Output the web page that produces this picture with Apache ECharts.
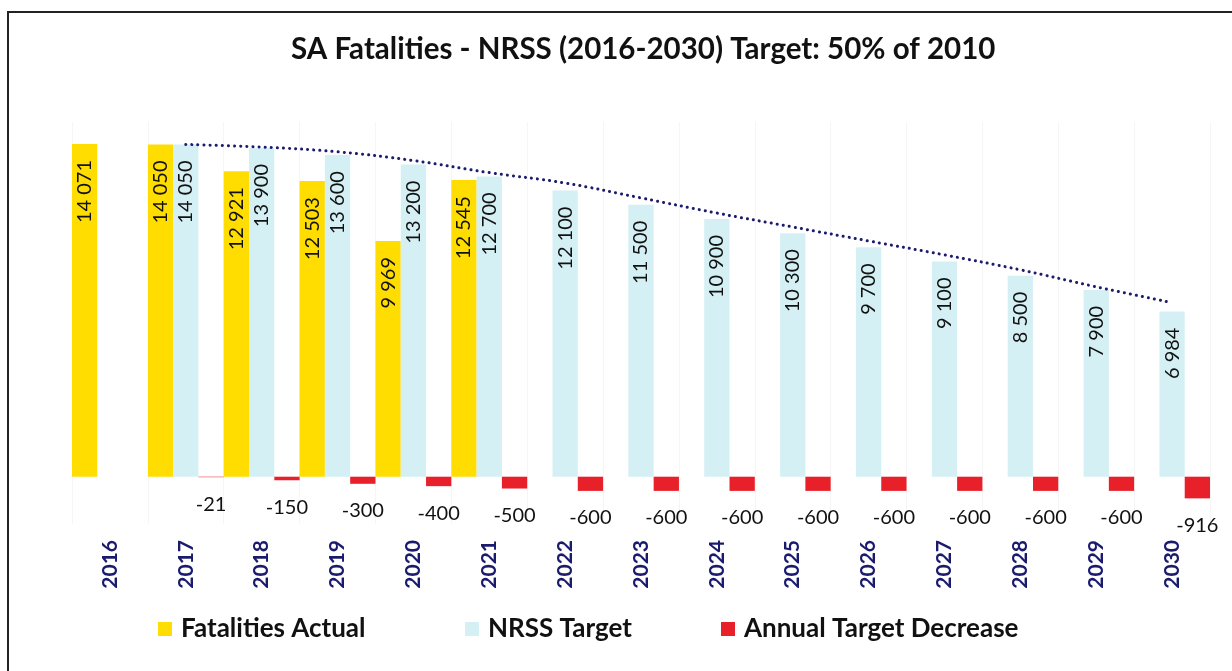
<!DOCTYPE html>
<html>
<head>
<meta charset="utf-8">
<title>SA Fatalities - NRSS</title>
<script src="https://cdn.jsdelivr.net/npm/echarts@6/dist/echarts.min.js"></script>
<style>
  html, body { margin: 0; padding: 0; background: #fff; }
  #chart { width: 1232px; height: 671px; }
</style>
</head>
<body>
<div id="chart"></div>
<script>
// data
const years = ["2016", "2017", "2018", "2019", "2020", "2021", "2022", "2023",
  "2024", "2025", "2026", "2027", "2028", "2029", "2030"];
const actual = [14071, 14050, 12921, 12503, 9969, 12545,
  null, null, null, null, null, null, null, null, null];
const target = [null, 14050, 13900, 13600, 13200, 12700, 12100, 11500,
  10900, 10300, 9700, 9100, 8500, 7900, 6984];
const decrease = [null, -21, -150, -300, -400, -500, -600, -600,
  -600, -600, -600, -600, -600, -600, -916];
// dotted trendline over the NRSS target
const trend = [null, 14050, 13940, 13740, 13370, 12860, 12420, 11790,
  11150, 10560, 9970, 9380, 8750, 8030, 7360];

const FONT = "Lato, 'Open Sans', sans-serif";

function spaced(v) {
  return String(v).replace(/\B(?=(\d{3})+(?!\d))/g, " ");
}

const insideLabel = {
  show: true,
  position: "insideTop",
  rotate: 90,
  align: "right",
  verticalAlign: "middle",
  distance: 16,
  color: "#111",
  fontSize: 20,
  fontFamily: FONT,
  formatter: (p) => spaced(p.value)
};

const chart = echarts.init(document.getElementById("chart"));

function legendAt(name, left) {
  return {
    data: [name],
    left: left,
    top: 611,
    icon: "rect",
    itemWidth: 14,
    itemHeight: 14,
    selectedMode: false,
    textStyle: {
      color: "#111",
      fontWeight: "bold",
      fontSize: 26,
      fontFamily: FONT,
      padding: [0, 0, 0, 4]
    }
  };
}

const option = {
  backgroundColor: "#fff",
  animation: false,
  title: {
    text: "SA Fatalities - NRSS (2016-2030) Target: 50% of 2010",
    left: 286,
    top: 29,
    textStyle: {
      color: "#111",
      fontWeight: "bold",
      fontSize: 29.5,
      fontFamily: FONT
    }
  },
  legend: [
    legendAt("Fatalities Actual", 153),
    legendAt("NRSS Target", 460),
    legendAt("Annual Target Decrease", 716)
  ],
  graphic: [{
    type: "rect",
    shape: { x: 8, y: 12, width: 1400, height: 800 },
    style: { fill: "none", stroke: "#222", lineWidth: 2 },
    silent: true
  }],
  grid: {
    left: 72,
    right: 22,
    top: 122,
    bottom: 147
  },
  xAxis: {
    type: "category",
    data: years,
    axisLine: { show: false, onZero: false },
    axisTick: { show: false },
    splitLine: { show: true, lineStyle: { color: "#f5f5f5", width: 1 } },
    axisLabel: {
      rotate: 90,
      margin: 16,
      color: "#1b1b6e",
      fontWeight: "bold",
      fontSize: 21,
      fontFamily: FONT
    }
  },
  yAxis: {
    type: "value",
    min: -2000,
    max: 15000,
    show: false,
    splitLine: { show: false }
  },
  series: [
    {
      name: "Fatalities Actual",
      type: "bar",
      data: actual,
      barGap: "0%",
      barCategoryGap: "0%",
      itemStyle: { color: "#ffdd00" },
      label: insideLabel
    },
    {
      name: "NRSS Target",
      type: "bar",
      data: target,
      itemStyle: { color: "#d5f0f4" },
      label: insideLabel
    },
    {
      name: "Annual Target Decrease",
      type: "bar",
      data: decrease,
      itemStyle: { color: "#e8202a" },
      label: {
        show: true,
        position: "bottom",
        distance: 17,
        color: "#111",
        fontSize: 20,
        fontFamily: FONT
      }
    },
    {
      name: "Trend",
      type: "line",
      data: trend,
      smooth: 0.4,
      symbol: "none",
      z: 5,
      lineStyle: {
        color: "#1c1c6e",
        width: 3,
        type: [0.1, 6],
        cap: "round"
      }
    }
  ]
};

chart.setOption(option);

window.addEventListener("resize", () => chart.resize());
</script>
</body>
</html>
